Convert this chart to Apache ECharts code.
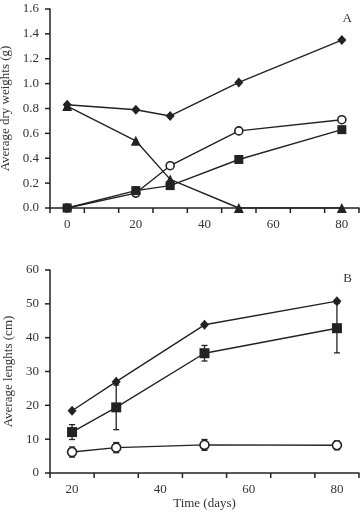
<!DOCTYPE html>
<html>
<head>
<meta charset="utf-8">
<script src="https://cdn.jsdelivr.net/npm/echarts@6/dist/echarts.min.js"></script>
<style>
  html, body { margin: 0; padding: 0; background: #fff; }
  #chart { width: 361px; height: 514px; }
</style>
</head>
<body>
<div id="chart"></div>
<script>
// panel A - dry weights (g)
const daysA = [0, 20, 30, 50, 80];
const diamondA = [0.83, 0.79, 0.74, 1.01, 1.35];
const triangleA = [0.82, 0.54, 0.23, 0, 0];
const circleA = [0, 0.12, 0.34, 0.62, 0.71];
const squareA = [0, 0.14, 0.18, 0.39, 0.63];
const labelsA = [0, 20, 40, 60, 80];
const xTicksA = [-5, 5, 15, 25, 35, 45, 55, 65, 75, 85];
const yTicksA = [0, 0.2, 0.4, 0.6, 0.8, 1.0, 1.2, 1.4, 1.6];

// panel B - lengths (cm)
const daysB = [20, 30, 50, 80];
const diamondB = [18.4, 27.0, 43.8, 50.8];
const squareB = [12.1, 19.4, 35.4, 42.8];
const squareErrB = [2.2, 6.6, 2.3, 7.3];
const circleB = [6.2, 7.5, 8.3, 8.2];
const circleErrB = [1.5, 1.5, 1.6, 1.3];
const labelsB = [20, 40, 60, 80];
const xTicksB = [15, 25, 35, 45, 55, 65, 75, 85];
const yTicksB = [0, 10, 20, 30, 40, 50, 60];

const ink = '#222';
const font = 'Liberation Serif';

function pairs(xs, ys) {
  return xs.map((x, i) => [x, ys[i]]);
}

function lineSeries(gi, xs, ys, symbol, size, open) {
  return {
    type: 'line',
    xAxisIndex: gi,
    yAxisIndex: gi,
    data: pairs(xs, ys),
    symbol: symbol,
    symbolSize: size,
    showAllSymbol: true,
    lineStyle: { color: ink, width: 1.4 },
    itemStyle: open
      ? { color: '#fff', borderColor: ink, borderWidth: 1.6 }
      : { color: ink, borderColor: ink, borderWidth: 0 },
    z: 3,
    animation: false
  };
}

function errorSeries(gi, xs, ys, errs) {
  return {
    type: 'custom',
    xAxisIndex: gi,
    yAxisIndex: gi,
    data: xs.map((x, i) => [x, ys[i] - errs[i], ys[i] + errs[i]]),
    renderItem: function (params, api) {
      const lo = api.coord([api.value(0), api.value(1)]);
      const hi = api.coord([api.value(0), api.value(2)]);
      const w = 3;
      const st = { stroke: ink, lineWidth: 1.3 };
      return {
        type: 'group',
        children: [
          { type: 'line', shape: { x1: lo[0], y1: lo[1], x2: hi[0], y2: hi[1] }, style: st },
          { type: 'line', shape: { x1: lo[0] - w, y1: lo[1], x2: lo[0] + w, y2: lo[1] }, style: st },
          { type: 'line', shape: { x1: hi[0] - w, y1: hi[1], x2: hi[0] + w, y2: hi[1] }, style: st }
        ]
      };
    },
    z: 2,
    animation: false
  };
}

function xAxisFor(gi, min, max, labels, name) {
  return {
    type: 'value',
    gridIndex: gi,
    min: min,
    max: max,
    name: name,
    nameLocation: 'middle',
    nameGap: 22,
    nameTextStyle: { fontFamily: font, fontSize: 13, color: '#333' },
    axisLine: { show: true, onZero: false, lineStyle: { color: ink, width: 1.5 } },
    axisTick: { show: false },
    axisLabel: { customValues: labels, margin: 10, fontFamily: font, fontSize: 13, color: '#333' },
    splitLine: { show: false }
  };
}

function yAxisFor(gi, max, interval, name, fmt) {
  return {
    type: 'value',
    gridIndex: gi,
    min: 0,
    max: max,
    interval: interval,
    name: name,
    nameLocation: 'middle',
    nameGap: 35,
    nameTextStyle: { fontFamily: font, fontSize: 13, color: '#333' },
    axisLine: { show: true, onZero: false, lineStyle: { color: ink, width: 1.5 } },
    axisTick: { show: false },
    axisLabel: { margin: 11, fontFamily: font, fontSize: 13, color: '#333', formatter: fmt },
    splitLine: { show: false }
  };
}

const chart = echarts.init(document.getElementById('chart'));
chart.setOption({
  backgroundColor: '#fff',
  animation: false,
  title: [
    { text: 'A', right: 4, top: 7, textStyle: { fontFamily: font, fontSize: 13, fontWeight: 'normal', color: '#333' } },
    { text: 'B', right: 4, top: 267, textStyle: { fontFamily: font, fontSize: 13, fontWeight: 'normal', color: '#333' } }
  ],
  grid: [
    { left: 50, top: 9, width: 309, height: 199, containLabel: false, outerBoundsMode: 'none' },
    { left: 50, top: 270, width: 309, height: 203, containLabel: false, outerBoundsMode: 'none' }
  ],
  xAxis: [
    xAxisFor(0, -5, 85, labelsA, ''),
    xAxisFor(1, 15, 85, labelsB, 'Time (days)')
  ],
  yAxis: [
    yAxisFor(0, 1.6, 0.2, 'Average dry weights (g)', v => v.toFixed(1)),
    yAxisFor(1, 60, 10, 'Average lenghts (cm)', v => String(v))
  ],
  series: [
    lineSeries(0, daysA, triangleA, 'triangle', 10, false),
    lineSeries(0, daysA, diamondA, 'diamond', [9, 10], false),
    lineSeries(0, daysA, circleA, 'circle', 8, true),
    lineSeries(0, daysA, squareA, 'rect', 9, false),
    errorSeries(1, daysB, squareB, squareErrB),
    errorSeries(1, daysB, circleB, circleErrB),
    lineSeries(1, daysB, diamondB, 'diamond', [9, 10], false),
    lineSeries(1, daysB, squareB, 'rect', 10, false),
    lineSeries(1, daysB, circleB, 'circle', 9, true)
  ]
});

// outward ticks, positioned through the axis scales
const tickEls = [];
[[0, -5, xTicksA, yTicksA], [1, 15, xTicksB, yTicksB]].forEach(function (g) {
  const gi = g[0], xMin = g[1];
  g[2].forEach(function (v) {
    const p = chart.convertToPixel({ gridIndex: gi }, [v, 0]);
    tickEls.push({ type: 'line', shape: { x1: p[0], y1: p[1], x2: p[0], y2: p[1] + 5 }, style: { stroke: ink, lineWidth: 1.5 } });
  });
  g[3].forEach(function (v) {
    const p = chart.convertToPixel({ gridIndex: gi }, [xMin, v]);
    tickEls.push({ type: 'line', shape: { x1: p[0] - 5, y1: p[1], x2: p[0], y2: p[1] }, style: { stroke: ink, lineWidth: 1.5 } });
  });
});
chart.setOption({ graphic: tickEls });
</script>
</body>
</html>
